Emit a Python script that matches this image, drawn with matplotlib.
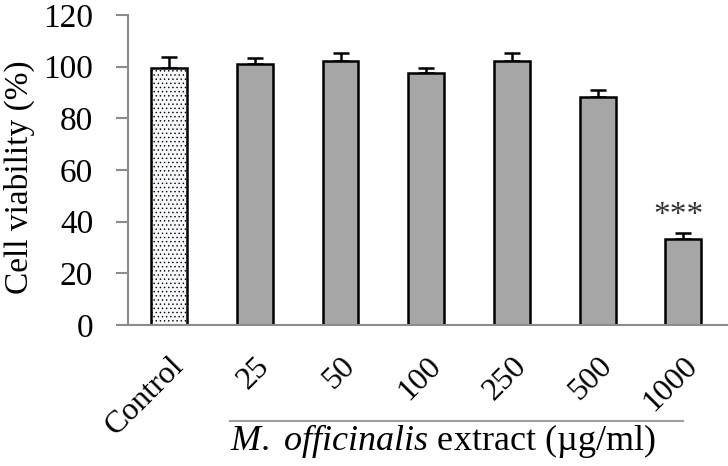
import matplotlib
matplotlib.use("Agg")
import matplotlib.pyplot as plt
from matplotlib.lines import Line2D
import matplotlib.transforms as mtransforms

plt.rcParams['font.family'] = ['Liberation Serif', 'DejaVu Serif']
plt.rcParams['mathtext.fontset'] = 'custom'
plt.rcParams['mathtext.it'] = 'Liberation Serif:italic'
plt.rcParams['mathtext.rm'] = 'Liberation Serif'
plt.rcParams['hatch.color'] = '#dfe4eb'
plt.rcParams['hatch.linewidth'] = 0.5

# Datos
grupos = ["Control", "25", "50", "100", "250", "500", "1000"]
viabilidad = [99.6, 101.2, 102.2, 97.6, 102.2, 88.1, 33.2]
error = [4.0, 2.2, 3.0, 1.8, 3.0, 3.0, 2.5]
significancia = ["", "", "", "", "", "", "***"]

fig = plt.figure(figsize=(7.28, 4.66), dpi=100)
ax = fig.add_axes([0.1758, 0.3026, 0.8228, 0.6652])

x = list(range(len(grupos)))
colores = ['#f6f8fb'] + ['#a6a6a6'] * (len(grupos) - 1)
bars = ax.bar(x, viabilidad, width=0.42, color=colores, edgecolor='black',
              linewidth=1.8, zorder=2)
bars[0].set_hatch('....')
ax.errorbar(x, viabilidad, yerr=[[0] * len(error), error], fmt='none',
            ecolor='black', elinewidth=1.8, capsize=6, capthick=1.8, zorder=1)

for xi, v, e, s in zip(x, viabilidad, error, significancia):
    if s:
        ax.text(xi - 0.06, v + e + 3.4, s, ha='center', va='baseline',
                fontsize=24, color='#333333')

ax.set_xlim(-0.48, 6.51)
ax.set_ylim(0, 120)
ax.set_yticks(range(0, 121, 20))
ax.set_xticks(x)
ax.set_xticklabels(grupos, rotation=45, ha='right', va='top',
                   rotation_mode='anchor', fontsize=23)
ax.tick_params(axis='x', length=0, pad=19)
ax.tick_params(axis='y', length=9, width=1.5, color='#8c8c8c', labelsize=24,
               pad=16)
ax.set_ylabel("Cell viability (%)", fontsize=24)
ax.yaxis.set_label_coords(-0.156, 0.476)

for lado in ['top', 'right']:
    ax.spines[lado].set_visible(False)
for lado in ['left', 'bottom']:
    ax.spines[lado].set_color('#8c8c8c')
    ax.spines[lado].set_linewidth(1.5)

# Linea y etiqueta del extracto bajo las concentraciones
trans = mtransforms.blended_transform_factory(ax.transData, fig.transFigure)
fig.add_artist(Line2D([0.71, 6.0], [0.0966, 0.0966], transform=trans,
                      color='#a0a0a0', linewidth=1.5))
fig.text(0.71, 0.0343, r"$\it{M.\ officinalis}$ extract (µg/ml)", transform=trans,
         ha='left', va='baseline', fontsize=26)

plt.savefig("out.png", dpi=100)
